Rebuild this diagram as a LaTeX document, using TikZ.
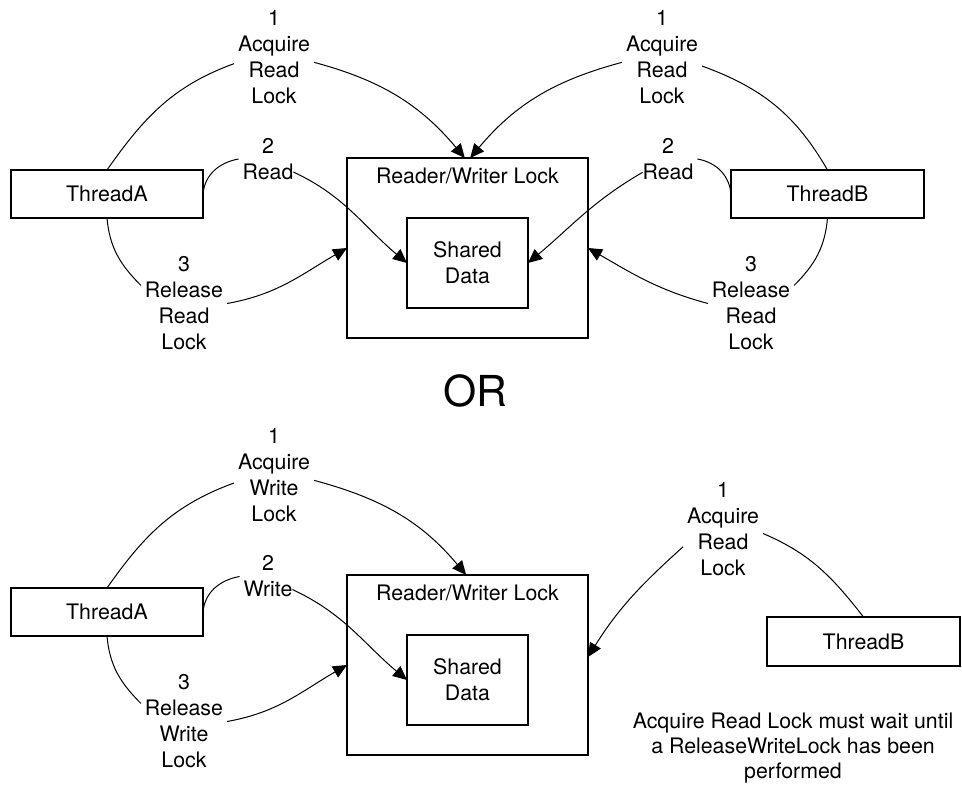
\documentclass[tikz,border=0pt]{standalone}
\usepackage{fontspec}
\setmainfont{TeX Gyre Heros}
\usetikzlibrary{arrows.meta}
\begin{document}
\begin{tikzpicture}[x=0.75pt,y=-0.75pt,
  every node/.style={font=\fontsize{16}{19.5}\selectfont},
  box/.style={draw,line width=0.8pt,inner sep=0pt,outer sep=0pt},
  thread/.style={box,minimum width=144pt,minimum height=36pt},
  rwbox/.style={box,minimum width=180.75pt,minimum height=135pt},
  sdbox/.style={box,minimum width=90.75pt,minimum height=67.5pt,align=center},
  lbl/.style={align=center,inner sep=3pt,outer sep=0pt},
  con/.style={line width=0.75pt},
  arr/.style={con,-{Triangle[length=10.5pt,width=9.5pt]}},
]
\useasboundingbox (0,0) rectangle (962,784);

% ---------- top ----------
\node[thread] (tA) at (107,194) {ThreadA};
\node[thread,minimum width=144.75pt] (tB) at (827.5,194) {ThreadB};
\node[rwbox] (rw) at (467.5,248) {};
\node (rwt) at (467.5,176) {Reader/Writer Lock};
\node[sdbox] (sd) at (467.5,263) {Shared\\Data};

\node[lbl] (a1) at (274,57) {1\\Acquire\\Read\\Lock};
\node[lbl] (b1) at (662,57) {1\\Acquire\\Read\\Lock};
\node[lbl] (a2) at (268,159) {2\\Read};
\node[lbl] (b2) at (668,159) {2\\Read};
\node[lbl] (a3) at (184,303.5) {3\\Release\\Read\\Lock};
\node[lbl] (b3) at (751,303.5) {3\\Release\\Read\\Lock};

\draw[con] (tA.north) to[out=55,in=200] ([yshift=-5pt]a1.west);
\draw[arr] ([yshift=-4pt]a1.east) to[out=-15,in=130] ([xshift=-2pt]rw.north);
\draw[con] (tB.north) to[out=120,in=-20] ([yshift=-6.75pt]b1.east);
\draw[arr] ([yshift=-4pt]b1.west) to[out=195,in=50] ([xshift=2pt]rw.north);
\draw[con] (tA.east) to[out=85,in=190] (a2.west);
\draw[arr] ([xshift=-3pt,yshift=-9.75pt]a2.east) to[out=-25,in=140] (sd.west);
\draw[con] (tB.west) to[out=95,in=-10] (b2.east);
\draw[arr] ([xshift=3pt,yshift=-10pt]b2.west) to[out=210,in=40] (sd.east);
\draw[con] (tA.south) to[out=-85,in=135] ([yshift=13.5pt]a3.west);
\draw[arr] (a3.east) to[out=10,in=210] (rw.west);
\draw[con] (tB.south) to[out=-95,in=45] ([yshift=13.5pt]b3.east);
\draw[arr] (b3.west) to[out=165,in=-30] (rw.east);

% ---------- OR ----------
\node[font=\fontsize{32}{38}\selectfont] (or) at (475,391) {OR};

% ---------- bottom ----------
\node[thread] (tA2) at (107,612) {ThreadA};
\node[thread,minimum width=144.75pt,minimum height=36.75pt] (tB2) at (863.5,641.5) {ThreadB};
\node[rwbox] (rw2) at (467.5,665) {};
\node (rwt2) at (467.5,593) {Reader/Writer Lock};
\node[sdbox] (sd2) at (467.5,680) {Shared\\Data};

\node[lbl] (c1) at (274,475) {1\\Acquire\\Write\\Lock};
\node[lbl] (c2) at (268,576.5) {2\\Write};
\node[lbl] (c3) at (184,721.5) {3\\Release\\Write\\Lock};
\node[lbl] (d1) at (723,529.5) {1\\Acquire\\Read\\Lock};
\node[align=center,font=\fontsize{16}{18.75}\selectfont] (note) at (793,748)
  {Acquire Read Lock must wait until\\a ReleaseWriteLock has been\\performed};

\draw[con] (tA2.north) to[out=55,in=200] ([yshift=-6pt]c1.west);
\draw[arr] ([yshift=-4pt]c1.east) to[out=-15,in=130] ([xshift=-1pt]rw2.north);
\draw[con] (tA2.east) to[out=85,in=190] (c2.west);
\draw[arr] ([xshift=-3pt,yshift=-9.75pt]c2.east) to[out=-25,in=140] (sd2.west);
\draw[con] (tA2.south) to[out=-85,in=135] ([yshift=13.5pt]c3.west);
\draw[arr] (c3.east) to[out=10,in=210] (rw2.west);
\draw[con] (tB2.north) to[out=128,in=-23] ([yshift=-3pt]d1.east);
\draw[arr] ([yshift=-13pt]d1.west) to[out=222,in=58] ([yshift=6pt]rw2.east);
\end{tikzpicture}
\end{document}
